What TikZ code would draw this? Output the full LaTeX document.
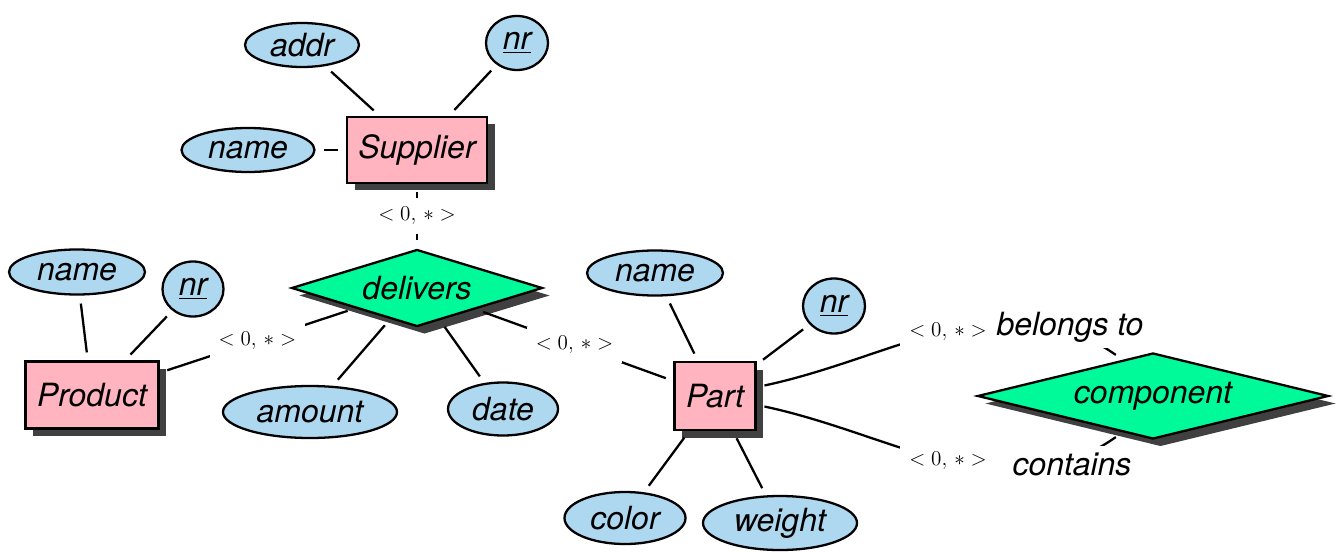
\documentclass[tikz,border=0pt]{standalone}
\usepackage[no-math]{fontspec}
\newfontfamily\erfont{TeX Gyre Heros}
\usetikzlibrary{shapes.geometric,shadows}
\definecolor{entitypink}{RGB}{255,180,192}
\definecolor{attrblue}{RGB}{174,216,240}
\definecolor{relgreen}{RGB}{0,250,154}
\definecolor{shadowgray}{RGB}{64,64,64}

\begin{document}
\begin{tikzpicture}[
  line width=1.3pt,
  every node/.style={font=\erfont\itshape\fontsize{18.2}{22}\selectfont},
  erShadow/.style={drop shadow={shadow xshift=0.15cm, shadow yshift=-0.15cm, fill=shadowgray, opacity=1}},
  entity/.style={rectangle, draw, fill=entitypink, inner sep=0pt, erShadow},
  relship/.style={diamond, draw, fill=relgreen, inner sep=0pt, erShadow},
  attr/.style={ellipse, draw, fill=attrblue, inner sep=0pt},
  link/.style={shorten <=0.16cm, shorten >=0.16cm},
  card/.style={fill=white, inner xsep=0.18cm, inner ysep=0.18cm, font=\fontsize{12.6}{14}\selectfont},
  role/.style={fill=white, inner xsep=0.22cm, inner ysep=0.12cm}
]
\useasboundingbox (0,0) rectangle (26.82,11.02);

\node[entity, minimum width=2.80cm, minimum height=1.32cm] (supplier) at (8.34,8.02) {Supplier};
\node[attr, minimum width=2.28cm, minimum height=0.88cm] (saddr) at (6.04,10.12) {addr};
\node[attr, minimum width=1.24cm, minimum height=1.08cm] (snr) at (10.34,10.16) {\underline{nr}};
\node[attr, minimum width=2.66cm, minimum height=0.88cm] (sname) at (4.96,8.02) {name};

\node[relship, aspect=3.2, minimum width=5.02cm, minimum height=1.54cm] (delivers) at (8.34,5.26) {delivers};
\node[attr, minimum width=3.48cm, minimum height=1.04cm] (amount) at (6.20,2.78) {amount};
\node[attr, minimum width=2.20cm, minimum height=1.06cm] (date) at (10.06,2.84) {date};

\node[entity, minimum width=2.66cm, minimum height=1.34cm] (product) at (1.84,3.12) {Product};
\node[attr, minimum width=2.72cm, minimum height=0.90cm] (pname) at (1.54,5.58) {name};
\node[attr, minimum width=1.22cm, minimum height=1.10cm] (pnr) at (3.86,5.24) {\underline{nr}};

\node[entity, minimum width=1.62cm, minimum height=1.36cm] (part) at (14.30,3.10) {Part};
\node[attr, minimum width=2.72cm, minimum height=0.90cm] (tname) at (13.10,5.56) {name};
\node[attr, minimum width=1.24cm, minimum height=1.10cm] (tnr) at (16.68,4.90) {\underline{nr}};
\node[attr, minimum width=2.42cm, minimum height=1.04cm] (color) at (12.50,0.66) {color};
\node[attr, minimum width=3.08cm, minimum height=1.08cm] (weight) at (15.60,0.56) {weight};

\node[relship, aspect=4, minimum width=7.02cm, minimum height=1.72cm] (component) at (23.06,3.10) {component};

\foreach \a in {saddr,snr,sname} \draw[link] (supplier) -- (\a);
\foreach \a in {pname,pnr} \draw[link] (product) -- (\a);
\foreach \a in {tname,tnr,color,weight} \draw[link] (part) -- (\a);
\foreach \a in {amount,date} \draw[link] (delivers) -- (\a);

\draw[link] (supplier) -- node[card] {$<0,\,*>$} (delivers);
\draw[link] (product) -- node[card] {$<0,\,*>$} (delivers);
\draw[link] (delivers) -- node[card] {$<0,\,*>$} (part);
\draw[link] (part.12) to[out=12, in=145] node[card] {$<0,\,*>$} (component.130);
\draw[link] (part.-12) to[out=-12, in=-145] node[card] {$<0,\,*>$} (component.-130);

\node[role] (belongs) at (21.40,4.48) {belongs to};
\node[role, inner xsep=0.35cm] (contains) at (21.44,1.74) {contains};
\end{tikzpicture}
\end{document}
